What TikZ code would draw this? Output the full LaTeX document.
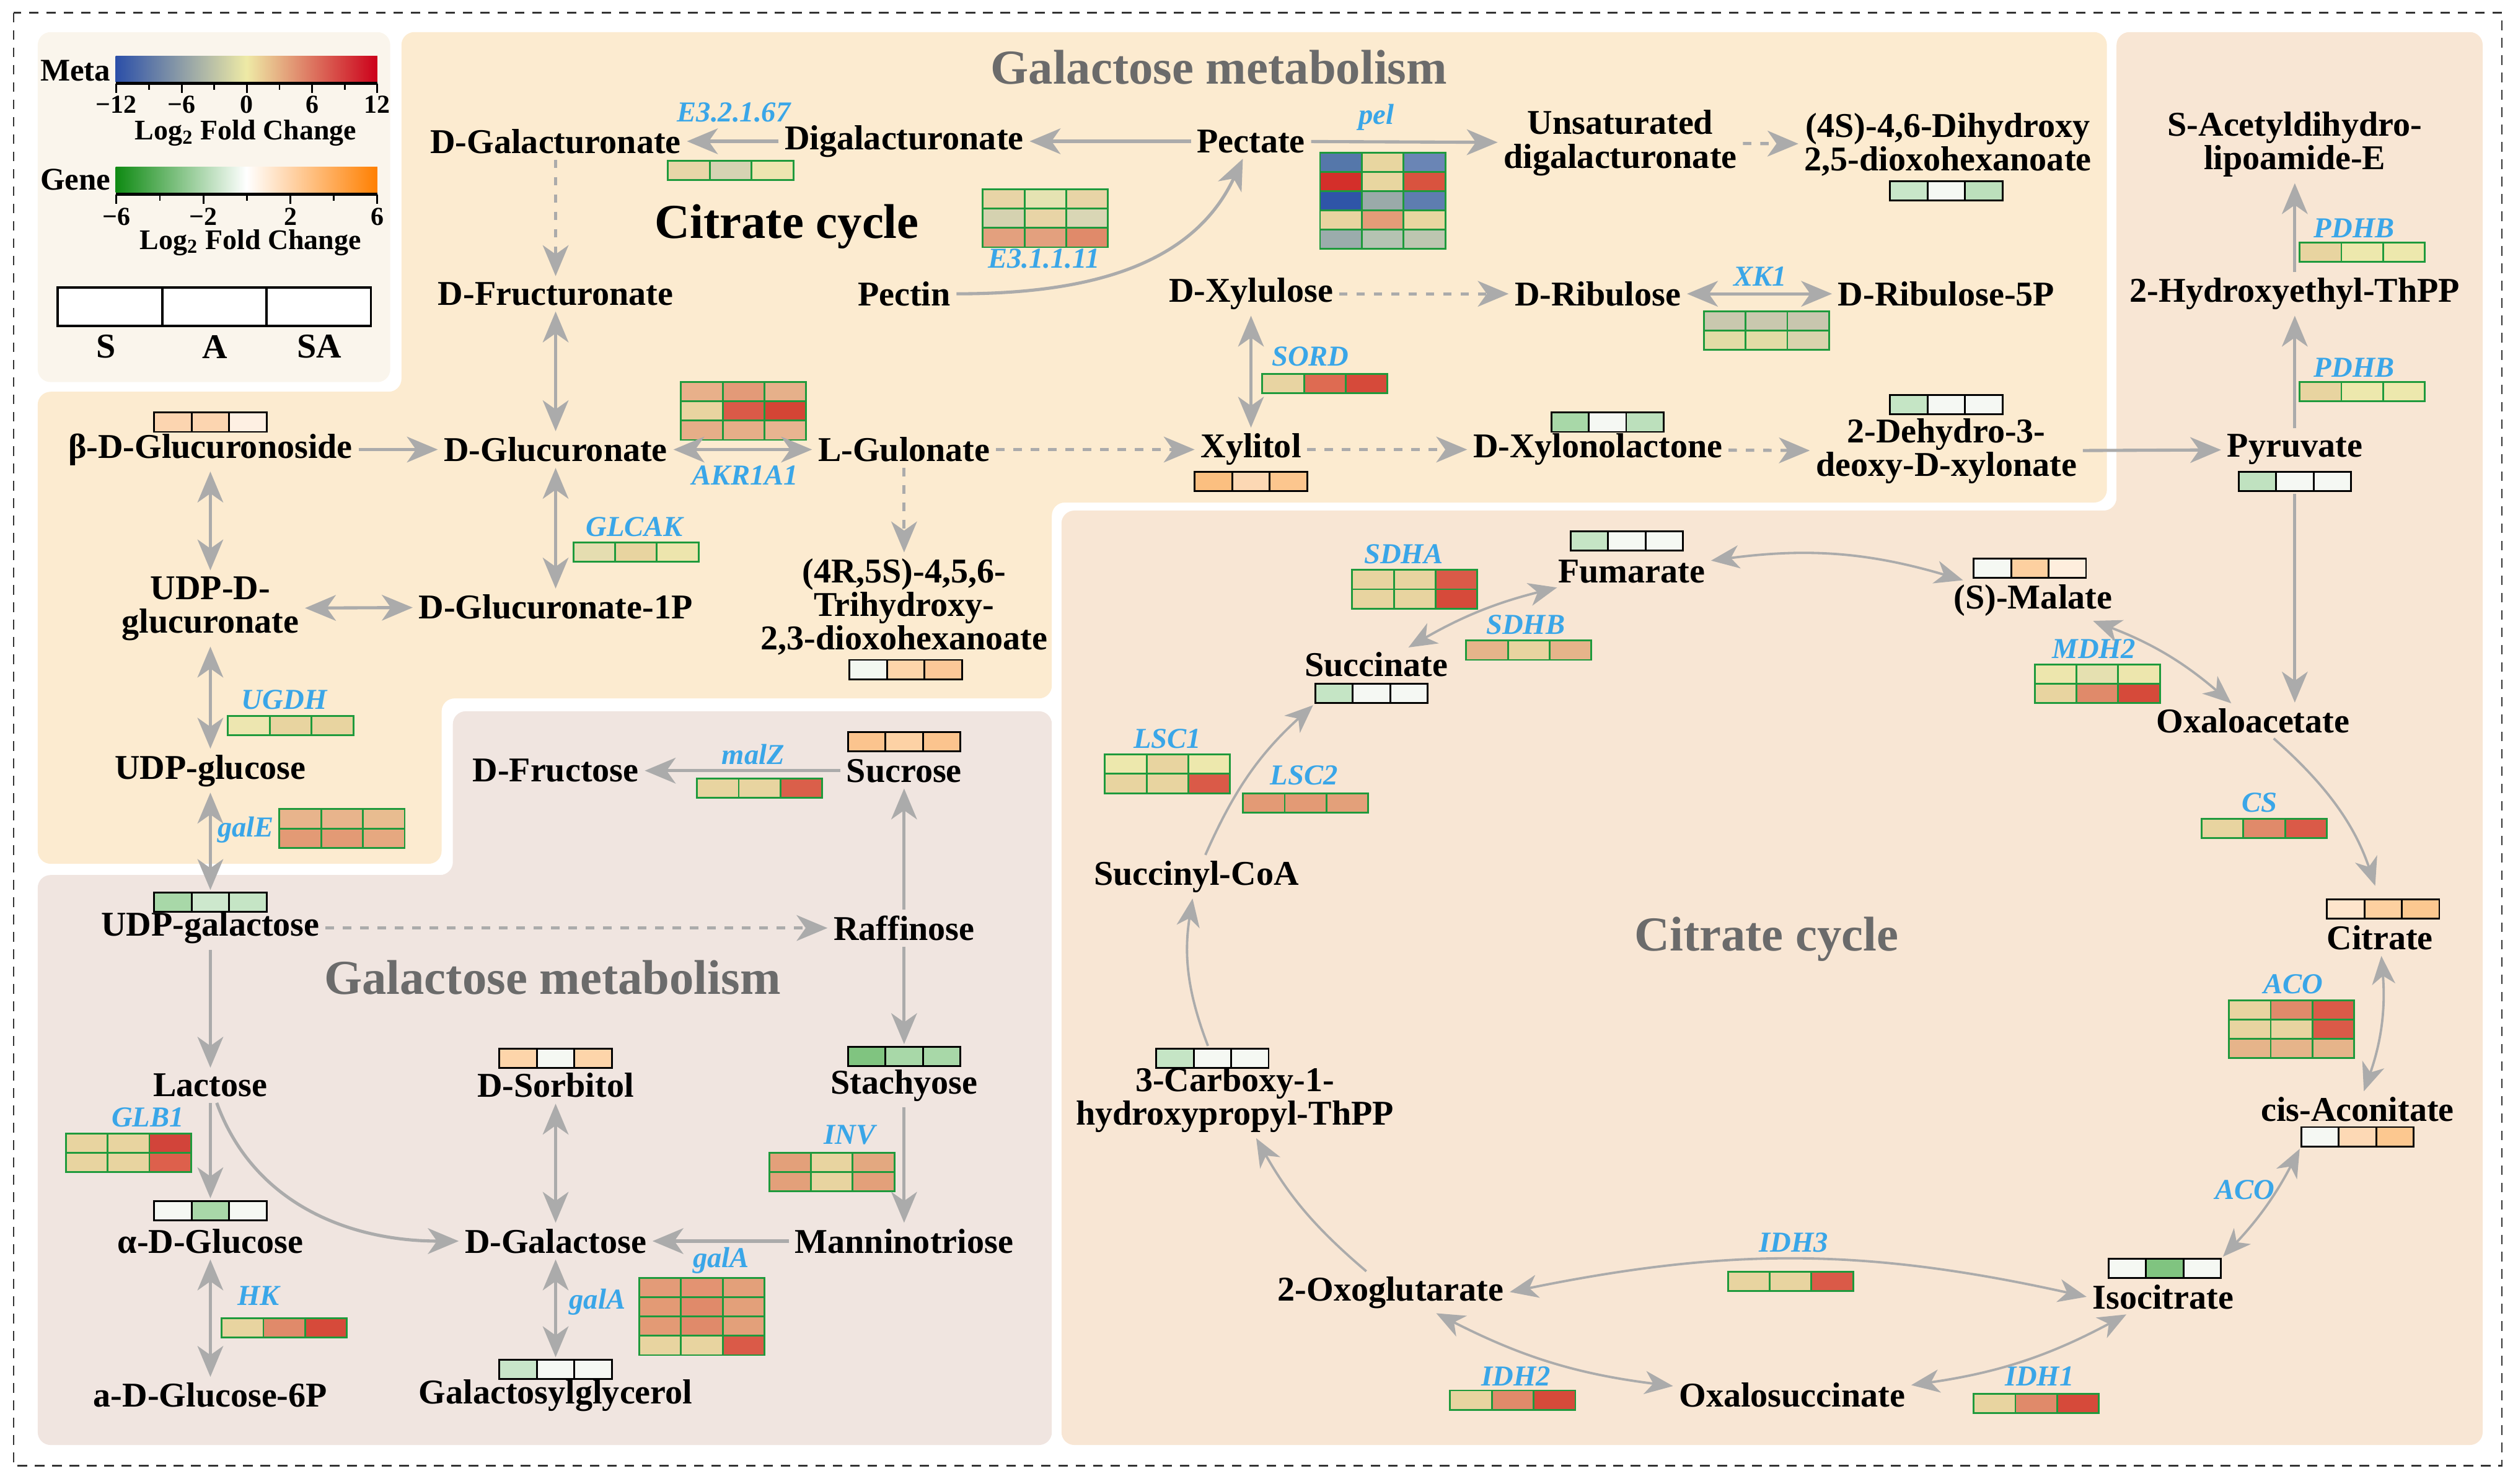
\documentclass[tikz,border=0pt]{standalone}
\usepackage{fontspec}
\setmainfont{Liberation Serif}
\usepackage{tikz}
\usepackage{xcolor}
\usetikzlibrary{arrows.meta}

\definecolor{legbg}{HTML}{FAF5EC}
\definecolor{galbg}{HTML}{FCEBD0}
\definecolor{tcabg}{HTML}{F8E6D4}
\definecolor{sugbg}{HTML}{F0E5E0}
\definecolor{arrowgray}{HTML}{ABABAB}
\definecolor{genblue}{HTML}{3AA6E8}
\definecolor{titlegray}{HTML}{6B6B6B}
\definecolor{genegreen}{HTML}{1E9A3C}
\definecolor{metblue}{HTML}{2B4FA8}
\definecolor{metmid}{HTML}{EEEAA6}
\definecolor{metred}{HTML}{CC001A}
\definecolor{gngreen}{HTML}{0E8A12}
\definecolor{gnorange}{HTML}{FF7F00}

\newcommand{\metbox}[4]{
  \node (#1) [inner sep=0pt, minimum width=1.75cm, minimum height=0.3cm] at (#2+35,#3+6) {};
  \foreach \hc [count=\hk from 0] in {#4} {
    \edef\setcell{\noexpand\definecolor{hcell}{HTML}{\hc}}\setcell
    \filldraw[fill=hcell, draw=black, line width=0.8pt] (#2+\hk*23.33,#3) rectangle ++(23.33,12);
  }
}
\newcommand{\genebox}[3]{
  \foreach \hrow [count=\hr from 0] in {#3} {
    \foreach \hc [count=\hk from 0] in \hrow {
      \edef\setcell{\noexpand\definecolor{hcell}{HTML}{\hc}}\setcell
      \filldraw[fill=hcell, draw=genegreen, line width=0.8pt] (#1+\hk*26,#2+\hr*12) rectangle ++(26,12);
    }
  }
}

\begin{document}
\begin{tikzpicture}[x=0.025cm, y=-0.025cm,
  >={Stealth[length=0.48cm,width=0.4cm,inset=0.14cm]},
  met/.style={font=\fontsize{15.4}{14.9}\selectfont\bfseries, align=center, inner sep=1.5pt},
  gene/.style={font=\fontsize{12.8}{13}\selectfont\bfseries\itshape, text=genblue, inner sep=0pt},
  ptitle/.style={font=\fontsize{21.6}{24}\selectfont\bfseries, text=titlegray},
  legtext/.style={font=\fontsize{12.6}{13}\selectfont\bfseries, inner sep=0pt},
  legtick/.style={font=\fontsize{11.5}{12}\selectfont\bfseries, inner sep=0pt},
  reac/.style={->, draw=arrowgray, line width=1.4pt, shorten >=1pt, shorten <=1pt},
  both/.style={reac, <->},
  unk/.style={reac, dash pattern=on 0.13cm off 0.14cm},
  cyc/.style={reac, line width=1.05pt, >={Stealth[length=0.44cm,width=0.36cm,inset=0.13cm]}},
  panel/.style={rounded corners=0.2cm}]
  \useasboundingbox (0,0) rectangle (1568,924);

  \fill[legbg, panel] (23.5,20) rectangle (243,238);
  \fill[galbg, panel] (250,20) -- (1312,20) -- (1312,313) -- (655,313) -- (655,435) -- (275,435) -- (275,538) -- (23.5,538) -- (23.5,244) -- (250,244) -- cycle;
  \fill[tcabg, panel] (661,318) -- (1318,318) -- (1318,20) -- (1546,20) -- (1546,900) -- (661,900) -- cycle;
  \fill[sugbg, panel] (282,443) -- (655,443) -- (655,900) -- (23.5,900) -- (23.5,545) -- (282,545) -- cycle;
  \draw[dash pattern=on 0.15cm off 0.12cm, line width=0.7pt, black!80] (8.5,8) rectangle (1558,913);

  \node (meta) [font=\fontsize{14}{14}\selectfont\bfseries] at (47,44) {Meta};
  \shade[left color=metblue, right color=metred, middle color=metmid] (72,35) rectangle (235,51);
  \draw[line width=1.5pt] (72,52) -- (235,52);
  \foreach \t in {0,2,...,8} \draw[line width=0.8pt] (72.5+\t*20.31,52) -- ++(0,6);
  \foreach \t in {1,3,...,7} \draw[line width=0.8pt] (72.5+\t*20.31,52) -- ++(0,4);
  \foreach \t/\v in {0/−12,2/−6,4/0,6/6,8/12} \node[legtick] at (72.5+\t*20.31,65) {\v};
  \node (metalfc) [legtext] at (153,83) {Log\textsubscript{2} Fold Change};

  \node (gene) [font=\fontsize{14}{14}\selectfont\bfseries] at (47,112) {Gene};
  \shade[left color=gngreen, right color=gnorange, middle color=white] (72,104) rectangle (235,120);
  \draw[line width=1.5pt] (72,121) -- (235,121);
  \foreach \t in {0,2,...,6} \draw[line width=0.8pt] (72.5+\t*27.08,121) -- ++(0,6);
  \foreach \t in {1,3,5} \draw[line width=0.8pt] (72.5+\t*27.08,121) -- ++(0,4);
  \foreach \t/\v in {0/−6,2/−2,4/2,6/6} \node[legtick] at (72.5+\t*27.08,135) {\v};
  \node (genelfc) [legtext] at (156,151) {Log\textsubscript{2} Fold Change};

  \foreach \i in {0,1,2} \draw[fill=white, line width=1pt] (36+\i*65,179) rectangle ++(65,24);
  \node (leg_S) [met] at (66,216) {S};
  \node (leg_A) [met] at (134,216) {A};
  \node (leg_SA) [met] at (199,216) {SA};

  \node (t_gal1) [ptitle] at (759,42) {Galactose metabolism};
  \node (t_cit1) [ptitle, text=black] at (490,141) {Citrate cycle};
  \node (t_gal2) [ptitle] at (344,609) {Galactose metabolism};
  \node (t_cit2) [ptitle] at (1100,585) {Citrate cycle};

  \node (D_GalA) [met] at (346,88) {D-Galacturonate};
  \node (DiGalA) [met] at (563,88) {Digalacturonate};
  \node (Pectate) [met] at (779,88) {Pectate};
  \node (UnsatDiGalA) [met] at (1009,89) {Unsaturated\\digalacturonate};
  \node (DHDO) [met] at (1213,90) {(4S)-4,6-Dihydroxy\\2,5-dioxohexanoate};
  \node (SAcDHL) [met] at (1429,90) {S-Acetyldihydro-\\lipoamide-E};
  \node (D_FruA) [met] at (346,183) {D-Fructuronate};
  \node (Pectin) [met] at (563,183) {Pectin};
  \node (D_Xylu) [met] at (779,183) {D-Xylulose};
  \node (D_Ribu) [met] at (995,183) {D-Ribulose};
  \node (D_Ribu5P) [met] at (1212,183) {D-Ribulose-5P};
  \node (HE_ThPP) [met] at (1429,183) {2-Hydroxyethyl-ThPP};
  \node (B_GlcAs) [met] at (131,280) {β-D-Glucuronoside};
  \node (D_GlcA) [met] at (346,280) {D-Glucuronate};
  \node (L_GulA) [met] at (563,280) {L-Gulonate};
  \node (Xylitol) [met] at (779,280) {Xylitol};
  \node (D_XylL) [met] at (995,280) {D-Xylonolactone};
  \node (DDX) [met] at (1212,281) {2-Dehydro-3-\\deoxy-D-xylonate};
  \node (Pyr) [met] at (1429,280) {Pyruvate};
  \node (UDP_GlcA) [met] at (131,379) {UDP-D-\\glucuronate};
  \node (D_GlcA1P) [met] at (346,378) {D-Glucuronate-1P};
  \node (THDH) [met] at (563,378) {(4R,5S)-4,5,6-\\Trihydroxy-\\2,3-dioxohexanoate};
  \node (UDP_Glc) [met] at (131,480) {UDP-glucose};
  \node (D_Fru) [met] at (346,480) {D-Fructose};
  \node (Sucr) [met] at (563,480) {Sucrose};
  \node (UDP_Gal) [met] at (131,578) {UDP-galactose};
  \node (Raf) [met] at (563,578) {Raffinose};
  \node (Lac) [met] at (131,676) {Lactose};
  \node (D_Sor) [met] at (346,676) {D-Sorbitol};
  \node (Sta) [met] at (563,676) {Stachyose};
  \node (A_Glc) [met] at (131,773) {α-D-Glucose};
  \node (D_Gal) [met] at (346,773) {D-Galactose};
  \node (Man) [met] at (563,773) {Manninotriose};
  \node (A_Glc6P) [met] at (131,869) {a-D-Glucose-6P};
  \node (GalGly) [met] at (346,869) {Galactosylglycerol};

  \node (Fum) [met] at (1016,356) {Fumarate};
  \node (Mal) [met] at (1266,374) {(S)-Malate};
  \node (Succ) [met] at (857,414) {Succinate};
  \node (OAA) [met] at (1403,449) {Oxaloacetate};
  \node (SucCoA) [met] at (745,546) {Succinyl-CoA};
  \node (Cit) [met] at (1482,584) {Citrate};
  \node (CHP_ThPP) [met] at (769,685) {3-Carboxy-1-\\hydroxypropyl-ThPP};
  \node (cAco) [met] at (1468,691) {cis-Aconitate};
  \node (OG) [met] at (866,805) {2-Oxoglutarate};
  \node (Iso) [met] at (1347,808) {Isocitrate};
  \node (OxSuc) [met] at (1116,869) {Oxalosuccinate};

  \metbox{B_GlcAs_h}{96}{257}{FCD5B0,FCD5B0,FEF0E3}
  \metbox{THDH_h}{529}{411}{F3F8F1,FDD5AA,FCC898}
  \metbox{Xylitol_h}{744}{294}{FBBF80,FCD8B4,FCC68E}
  \metbox{D_XylL_h}{966}{257}{A8D8A8,F5F8F3,BCE0BC}
  \metbox{DDX_h}{1177}{246}{C5E5C5,F5F8F3,F5F8F3}
  \metbox{DHDO_h}{1177}{113}{C8E6C9,F5F8F3,BCE0BC}
  \metbox{Pyr_h}{1394}{294}{C0E2C0,F5F8F3,F5F8F3}
  \metbox{Sucr_h}{528}{456}{FBC48E,FDD2A5,FBC48E}
  \metbox{UDP_Gal_h}{96}{556}{A8D8A8,CDE8CD,C5E5C5}
  \metbox{Sta_h}{528}{652}{80C480,A8D8A8,A8D8A8}
  \metbox{D_Sor_h}{311}{653}{FDD5AA,F5F8F3,FDD5AA}
  \metbox{A_Glc_h}{96}{748}{F5F8F3,A8D8A8,F5F8F3}
  \metbox{GalGly_h}{311}{847}{C8E6C9,F5F8F3,F5F8F3}
  \metbox{Fum_h}{978}{331}{C5E5C5,F5F8F3,F5F8F3}
  \metbox{Mal_h}{1229}{348}{F5F8F3,FDD0A0,FEEEDD}
  \metbox{Succ_h}{819}{426}{C5E5C5,F5F8F3,F5F8F3}
  \metbox{Cit_h}{1449}{560}{FEE5CC,FDD0A0,FCC890}
  \metbox{CHP_ThPP_h}{720}{653}{C5E5C5,F5F8F3,F5F8F3}
  \metbox{cAco_h}{1433}{702}{F5F8F3,FDD9B5,FCC890}
  \metbox{Iso_h}{1313}{784}{F5F8F3,80C480,F5F8F3}

  \genebox{416}{100}{{E8D6A8,D6D3B3,EDE5B0}}
  \genebox{612}{118}{{E8D4A6,E5E3B2,E8D4A6},{D5D2B0,E8D4A6,D9D6B5},{E3A07E,E3A07E,E08A6A}}
  \genebox{822}{95}{{5577AA,E8D6A0,6A85B5},{D42F2A,E8D6A0,D9533F},{2F55A8,9AAAA9,5E7DB0},{E8D4A0,E39C78,E8D6A0},{9BACAC,B5C3B2,BDC6B0}}
  \genebox{1432}{151}{{E8D4A0,EDE8AD,EDE8AD}}
  \genebox{1432}{238}{{E8D4A0,EDE8AD,EDE8AD}}
  \genebox{1061}{194}{{C9C8AE,C9C8AE,C8C6AE},{E2DCA6,E2DCA6,D9D3AD}}
  \genebox{786}{233}{{E8D4A2,DE6B52,D64A3A}}
  \genebox{424}{238}{{E8B08A,E39A78,E6B08A},{E8D4A0,DA5A48,D44535},{E6AE88,E6AE88,E8B490}}
  \genebox{357}{338}{{E5DDB0,E8D4A0,EDE5AD}}
  \genebox{142}{446}{{EDE6B0,E8D4A0,E8D4A0}}
  \genebox{174}{504}{{E8B48C,E8B48C,E8BC90},{E39A75,E39A75,E6A880}}
  \genebox{434}{485}{{E8D4A0,E8D4A0,DA5F4A}}
  \genebox{41}{706}{{E8D4A0,E8D4A0,D2443A},{E8D4A0,E8D4A0,DD604C}}
  \genebox{479}{718}{{E3A07A,E8D4A0,E3A880},{E3A07A,E8D4A0,E3A07A}}
  \genebox{138}{821}{{E8D4A0,E08A6A,D64A3A}}
  \genebox{398}{796}{{E39B78,E39372,E3A07A},{E39A75,E08A6A,E3A07A},{E39A75,E08A6A,E3A07A},{E8D4A0,E8D4A0,DA5A48}}
  \genebox{842}{355}{{E8D4A0,E8D4A0,DA5A48},{E8D4A0,E8D4A0,D64A3A}}
  \genebox{913}{399}{{E6B48A,E8D4A0,E6B48A}}
  \genebox{1267}{414}{{EDE6AD,E5E0B0,EDE6AD},{E8D4A0,E08A6A,D64A3A}}
  \genebox{688}{470}{{EDE8AD,E8D4A0,EDE8AD},{E8D4A0,E8D4A0,DA5A48}}
  \genebox{774}{494}{{E39A75,E39A75,E3A07A}}
  \genebox{1371}{510}{{E8D4A0,E08A6A,DA5A48}}
  \genebox{1388}{623}{{E8D4A0,E08A6A,DA5A48},{E8D4A0,E8D4A0,DA5A48},{E6B48A,E6B48A,E6B48A}}
  \genebox{1076}{792}{{E8D4A0,E8D4A0,DA5A48}}
  \genebox{903}{866}{{E8D4A0,E08A6A,D64A3A}}
  \genebox{1229}{868}{{E8D4A0,E08A6A,D64A3A}}

  \node (g_e32167) [gene] at (457,70) {E3.2.1.67};
  \node (g_e31111) [gene] at (650,161) {E3.1.1.11};
  \node (g_pel) [gene] at (857,73) {pel};
  \node (g_sord) [gene] at (816,222) {SORD};
  \node (g_xk1) [gene] at (1096,172) {XK1};
  \node (g_pdhb1) [gene] at (1466,142) {PDHB};
  \node (g_pdhb2) [gene] at (1466,229) {PDHB};
  \node (g_akr) [gene] at (464,296) {AKR1A1};
  \node (g_glcak) [gene] at (395,328) {GLCAK};
  \node (g_ugdh) [gene] at (177,436) {UGDH};
  \node (g_gale) [gene] at (153,517) {galE};
  \node (g_malz) [gene] at (469,470) {malZ};
  \node (g_glb1) [gene] at (92,696) {GLB1};
  \node (g_inv) [gene] at (529,707) {INV};
  \node (g_hk) [gene] at (161,807) {HK};
  \node (g_gala1) [gene] at (449,785) {galA};
  \node (g_gala2) [gene] at (372,811) {galA};
  \node (g_sdha) [gene] at (874,345) {SDHA};
  \node (g_sdhb) [gene] at (950,389) {SDHB};
  \node (g_mdh2) [gene] at (1304,404) {MDH2};
  \node (g_lsc1) [gene] at (727,460) {LSC1};
  \node (g_lsc2) [gene] at (812,483) {LSC2};
  \node (g_cs) [gene] at (1407,500) {CS};
  \node (g_aco1) [gene] at (1428,613) {ACO};
  \node (g_aco2) [gene] at (1398,741) {ACO};
  \node (g_idh3) [gene] at (1117,774) {IDH3};
  \node (g_idh2) [gene] at (944,857) {IDH2};
  \node (g_idh1) [gene] at (1270,857) {IDH1};

  \path (DiGalA) edge[reac] (D_GalA);
  \path (Pectate) edge[reac] (DiGalA);
  \path (Pectate) edge[reac] (UnsatDiGalA);
  \path (UnsatDiGalA) edge[unk] (DHDO);
  \path (D_GalA) edge[unk] (D_FruA);
  \path (D_FruA) edge[both] (D_GlcA);
  \path (Pectin) edge[reac, out=0, in=-115] (Pectate);
  \path (D_Xylu) edge[unk] (D_Ribu);
  \path (D_Ribu) edge[both] (D_Ribu5P);
  \path (D_Xylu) edge[both] (Xylitol);
  \path (B_GlcAs) edge[reac] (D_GlcA);
  \path (D_GlcA) edge[both] (L_GulA);
  \path (L_GulA) edge[unk] (Xylitol);
  \path (Xylitol) edge[unk] (D_XylL);
  \path (D_XylL) edge[unk] (DDX);
  \path (DDX) edge[reac] (Pyr);
  \path (Pyr) edge[reac] (HE_ThPP);
  \path (HE_ThPP) edge[reac] (SAcDHL);
  \path (L_GulA) edge[unk] (THDH);
  \path (D_GlcA) edge[both] (D_GlcA1P);
  \path (B_GlcAs) edge[both] (UDP_GlcA);
  \path (UDP_GlcA) edge[both] (D_GlcA1P);
  \path (UDP_GlcA) edge[both] (UDP_Glc);
  \path (UDP_Glc) edge[both] (UDP_Gal_h);
  \path (UDP_Gal) edge[unk] (Raf);
  \path (Raf) edge[reac] (Sucr);
  \path (Sucr) edge[reac] (D_Fru);
  \path (Raf) edge[reac] (Sta_h);
  \path (Sta) edge[reac] (Man);
  \path (Man) edge[reac] (D_Gal);
  \path (D_Sor) edge[both] (D_Gal);
  \path (D_Gal) edge[both] (GalGly_h);
  \path (UDP_Gal) edge[reac] (Lac);
  \path (Lac) edge[reac] (A_Glc_h);
  \path (Lac) edge[reac, out=-70, in=180] (D_Gal);
  \path (A_Glc) edge[both] (A_Glc6P);
  \path (Pyr_h) edge[reac] (Pyr_h |- OAA.north);

  \path (Succ) edge[cyc, <->, bend left=8] (Fum);
  \path (Fum) edge[cyc, <->, bend left=12] (Mal);
  \path (Mal) edge[cyc, <->, bend left=10] (OAA);
  \path (OAA) edge[cyc, bend left=15, shorten >=6pt] (Cit_h);
  \path (Cit) edge[cyc, <->, bend left=12] (cAco);
  \path (cAco_h.south west) edge[cyc, <->, bend left=8] (Iso_h.north east);
  \path (Iso) edge[cyc, <->, bend left=10] (OxSuc);
  \path (OxSuc) edge[cyc, <->, bend left=10] (OG);
  \path (OG.east) edge[cyc, <->, bend left=12] (Iso.west);
  \path (OG) edge[cyc, bend left=10] (CHP_ThPP);
  \path (CHP_ThPP_h) edge[cyc, bend left=15] (SucCoA);
  \path (SucCoA) edge[cyc, bend left=12] (Succ_h.south west);
\end{tikzpicture}
\end{document}
